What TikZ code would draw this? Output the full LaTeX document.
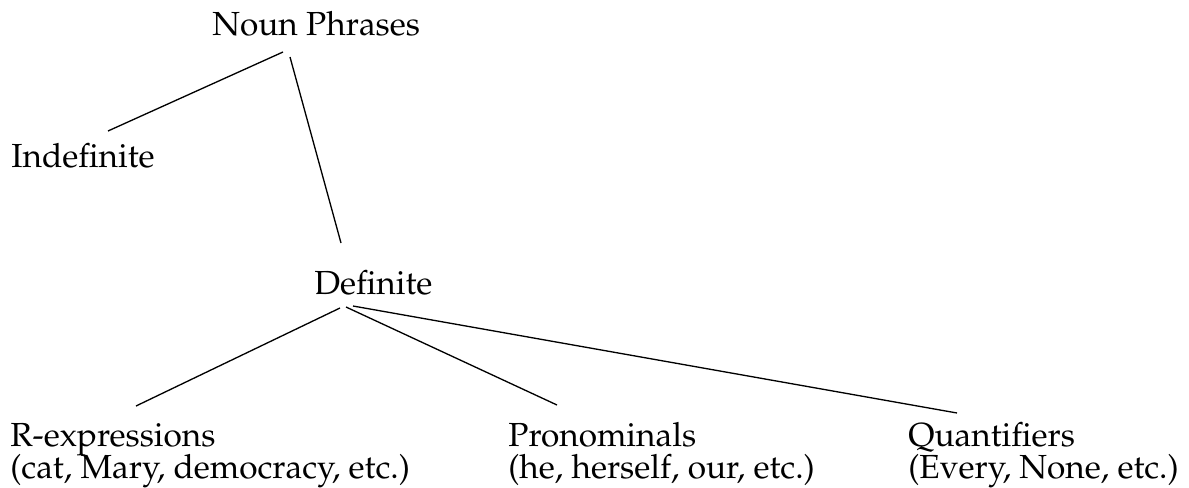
\documentclass[tikz,border=0pt]{standalone}
\usepackage[T1]{fontenc}
\usepackage{mathpazo}
\usetikzlibrary{calc}
\newcommand\tightlines{\lineskiplimit=-100pt\relax}

\begin{document}
\begin{tikzpicture}[x=0.02cm,y=-0.02cm,
  label/.style={inner sep=0pt,anchor=base west,
    font=\fontsize{19}{18}\selectfont\tightlines},
  twoline/.style={label,align=left},
  branch/.style={line width=0.75pt}]
% Page frame
\useasboundingbox (0,0) rectangle (1189,487);

% Draw category labels
\node [label] (np) at (212,35) {Noun Phrases};
\node [label] (indef) at (11,167) {Indefinite};
\node [label] (def) at (314,294) {Definite};
\node [twoline] (rexp) at (10,478) {R-expressions\\(cat, Mary, democracy, etc.)};
\node [twoline] (pron) at (508,478) {Pronominals\\(he, herself, our, etc.)};
\node [twoline] (quant) at (908,478) {Quantifiers\\(Every, None, etc.)};

% Draw branches below Noun Phrases
\draw [branch] ($(np.base west)+(71,17)$) -- ($(indef.base west)+(97,-36)$);
\draw [branch] ($(np.base west)+(78,22)$) -- ($(def.base west)+(27,-51)$);

% Draw branches below Definite
\draw [branch] ($(def.base west)+(26,14)$) -- ($(rexp.base west)+(126,-72)$);
\draw [branch] ($(def.base west)+(32,13)$) -- ($(pron.base west)+(49,-73)$);
\draw [branch] ($(def.base west)+(39,12)$) -- ($(quant.base west)+(49,-65)$);

\end{tikzpicture}
\end{document}
